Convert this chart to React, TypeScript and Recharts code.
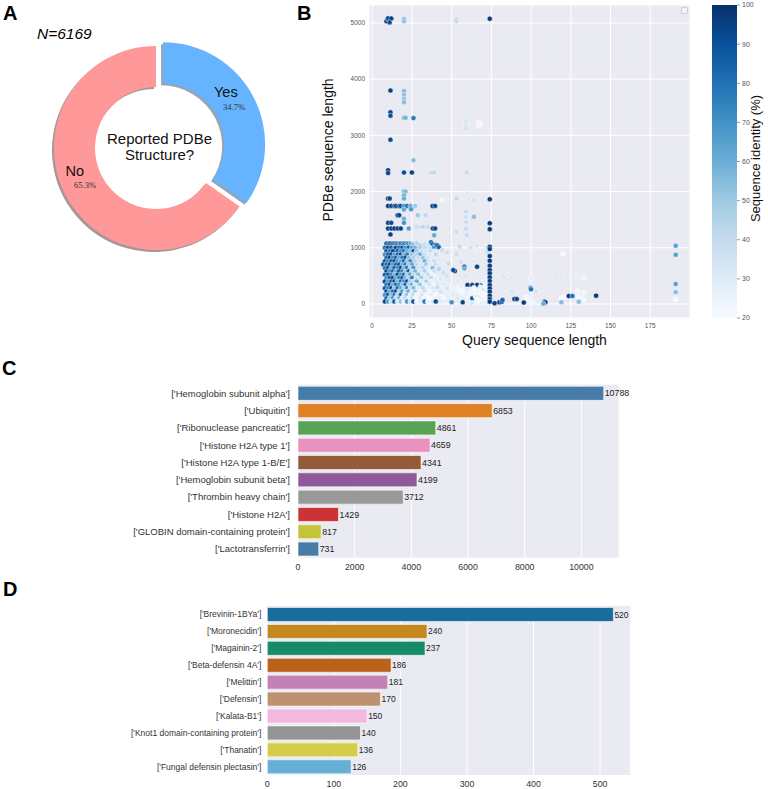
import React from 'react';
import {
  PieChart, Pie, Cell, ScatterChart, Scatter, XAxis, YAxis, CartesianGrid,
  BarChart, Bar, LabelList,
} from 'recharts';

const FONT = '"Liberation Sans", Arial, Helvetica, sans-serif';
const SERIF = '"Liberation Serif", "Times New Roman", serif';

// ---- panel A: reported PDBe structure ----
const pieNames = ['Yes', 'No'];
const pieCounts = [2141, 4028];
const pieColors = ['#66b3ff', '#ff9999'];
const pieShadow = ['#93a5b7', '#a89696'];

// ---- panel B: query length, PDBe length, identity (%) ----
const hits: [number, number, number][] = [
  // ~5000
  [9, 5030, 97], [10, 5060, 96], [10, 5085, 93], [12, 5080, 95], [11, 5010, 90],
  [20, 5070, 55], [20, 5030, 52], [53, 5060, 42], [53, 5030, 40], [74, 5075, 97],
  // 2900 - 3800
  [11.5, 3798, 95], [20, 3790, 55], [20, 3720, 53], [20, 3650, 52], [20, 3590, 55],
  [11.5, 3410, 92], [11.5, 3350, 90], [20, 3314, 60], [21, 3314, 58], [26, 3307, 78],
  [59, 3260, 35], [59, 3210, 33], [59, 3160, 34], [59, 3120, 36],
  [67, 3240, 22], [68, 3200, 21], [67, 3180, 23], [11.5, 2923, 92], [26, 2556, 55],
  // 2300
  [10, 2380, 96], [10, 2330, 94], [20, 2338, 92], [25, 2338, 95], [37, 2338, 40],
  [39, 2338, 42], [59.5, 2338, 40],
  // 1200 - 2000
  [20, 2005, 58], [21, 2000, 55], [20, 1928, 60],
  [10, 1876, 95], [11, 1876, 92], [20, 1876, 60], [44, 1850, 22], [53, 1876, 42],
  [60, 1965, 30], [61, 1846, 32], [64, 1846, 35],
  [10, 1745, 97], [12, 1745, 95], [14, 1745, 96], [15, 1745, 92], [17, 1745, 94],
  [18, 1745, 93], [20, 1745, 70], [22, 1745, 82], [24, 1745, 62], [27, 1745, 50],
  [38, 1745, 95], [39.6, 1745, 92], [20, 1680, 62], [24.5, 1686, 68],
  [16, 1580, 96], [17, 1580, 94], [28.7, 1580, 50], [33.6, 1580, 42],
  [59, 1640, 40], [59, 1550, 38], [64, 1550, 55], [20, 1515, 60],
  [10, 1443, 95], [12, 1443, 92], [20, 1443, 70],
  [10, 1343, 96], [12, 1343, 95], [14, 1343, 97], [16, 1343, 93], [18, 1343, 95],
  [23, 1343, 65], [28, 1372, 40], [30, 1372, 38], [32, 1372, 42], [35, 1372, 40],
  [38.2, 1343, 95], [39.6, 1343, 93], [59, 1460, 38], [59, 1343, 40], [53, 1283, 38],
  [39, 1224, 62], [11.5, 1237, 95], [59.5, 1225, 40], [37, 1100, 80],
  // dense block, query length 7-40
  [9, 1075, 95], [10, 1075, 92], [11, 1075, 88], [12, 1075, 96], [13, 1075, 85],
  [14, 1075, 90], [15, 1075, 78], [16, 1075, 93], [17, 1075, 70], [18, 1075, 88],
  [19, 1075, 82], [20, 1075, 75], [21, 1075, 91], [22, 1075, 68], [23, 1075, 86],
  [24, 1075, 60], [26, 1060, 55], [28, 1080, 45], [30, 1040, 50], [33, 1060, 40],
  [35, 1020, 45], [38, 1060, 90], [39, 1030, 88], [40, 1050, 85],
  [8, 1000, 80], [10, 1000, 96], [12, 1000, 90], [14, 1000, 75], [15, 1000, 94],
  [17, 1000, 82], [19, 1000, 90], [21, 1000, 70], [23, 1000, 85], [25, 1000, 65],
  [27, 1000, 58], [30, 1000, 48], [33, 1000, 42], [36, 1000, 38], [39, 1000, 70],
  [9, 940, 92], [11, 940, 78], [13, 940, 95], [16, 940, 88], [18, 940, 72],
  [20, 940, 84], [22, 940, 62], [24, 940, 55], [26, 940, 90], [28, 940, 50],
  [31, 940, 40], [34, 940, 35], [37, 940, 45], [39, 940, 30],
  [8, 880, 70], [10, 880, 88], [12, 880, 94], [14, 880, 66], [16, 880, 80],
  [18, 880, 92], [20, 880, 58], [22, 880, 76], [25, 880, 50], [28, 880, 45],
  [30, 880, 60], [33, 880, 38], [36, 880, 32], [40, 880, 42],
  [9, 820, 85], [11, 820, 96], [13, 820, 72], [15, 820, 90], [17, 820, 64],
  [19, 820, 80], [21, 820, 94], [23, 820, 55], [26, 820, 48], [29, 820, 40],
  [32, 820, 52], [35, 820, 36], [38, 820, 30],
  [8, 760, 92], [10, 760, 75], [12, 760, 86], [14, 760, 95], [16, 760, 70],
  [18, 760, 62], [20, 760, 88], [22, 760, 52], [24, 760, 72], [27, 760, 44],
  [30, 760, 38], [33, 760, 58], [36, 760, 34], [39, 760, 40],
  [7, 700, 90], [9, 700, 82], [11, 700, 94], [13, 700, 68], [15, 700, 85],
  [17, 700, 92], [19, 700, 60], [21, 700, 78], [23, 700, 50], [25, 700, 64],
  [28, 700, 42], [31, 700, 35], [34, 700, 48], [37, 700, 30], [40, 700, 36],
  [8, 640, 78], [10, 640, 95], [12, 640, 62], [14, 640, 88], [16, 640, 74],
  [18, 640, 96], [20, 640, 56], [22, 640, 82], [24, 640, 45], [26, 640, 70],
  [29, 640, 38], [32, 640, 44], [35, 640, 30], [38, 640, 55],
  [9, 580, 94], [11, 580, 70], [13, 580, 86], [15, 580, 60], [17, 580, 90],
  [19, 580, 75], [21, 580, 52], [23, 580, 88], [25, 580, 40], [27, 580, 58],
  [30, 580, 34], [33, 580, 46], [36, 580, 28], [39, 580, 38],
  [8, 520, 86], [10, 520, 92], [12, 520, 76], [14, 520, 58], [16, 520, 95],
  [18, 520, 68], [20, 520, 84], [22, 520, 48], [24, 520, 66], [26, 520, 42],
  [29, 520, 55], [32, 520, 32], [35, 520, 40], [38, 520, 26],
  [9, 460, 72], [11, 460, 88], [13, 460, 96], [15, 460, 64], [17, 460, 78],
  [19, 460, 90], [21, 460, 58], [23, 460, 44], [25, 460, 76], [28, 460, 36],
  [31, 460, 50], [34, 460, 30], [37, 460, 42], [40, 460, 28],
  [8, 400, 95], [10, 400, 66], [12, 400, 84], [14, 400, 92], [16, 400, 56],
  [18, 400, 80], [20, 400, 70], [22, 400, 92], [24, 400, 50], [26, 400, 38],
  [28, 400, 62], [31, 400, 30], [34, 400, 45], [37, 400, 26], [40, 400, 34],
  [9, 340, 80], [11, 340, 94], [13, 340, 60], [15, 340, 86], [17, 340, 72],
  [19, 340, 54], [21, 340, 88], [23, 340, 46], [25, 340, 60], [27, 340, 34],
  [30, 340, 52], [33, 340, 28], [36, 340, 36], [39, 340, 24],
  [8, 280, 88], [10, 280, 74], [12, 280, 96], [14, 280, 52], [16, 280, 84],
  [18, 280, 66], [20, 280, 46], [22, 280, 76], [24, 280, 38], [26, 280, 56],
  [29, 280, 30], [32, 280, 42], [35, 280, 26], [38, 280, 32],
  [9, 220, 92], [11, 220, 62], [13, 220, 80], [15, 220, 94], [17, 220, 48],
  [19, 220, 70], [21, 220, 40], [23, 220, 64], [25, 220, 32], [27, 220, 48],
  [30, 220, 26], [33, 220, 38], [36, 220, 24], [39, 220, 30],
  [8, 160, 70], [10, 160, 90], [12, 160, 56], [14, 160, 78], [16, 160, 42],
  [18, 160, 88], [20, 160, 36], [22, 160, 54], [24, 160, 28], [26, 160, 44],
  [28, 160, 24], [31, 160, 34], [34, 160, 22], [37, 160, 28], [40, 160, 22],
  [9, 100, 84], [11, 100, 50], [13, 100, 72], [15, 100, 38], [17, 100, 60],
  [19, 100, 30], [21, 100, 46], [23, 100, 26], [25, 100, 40], [27, 100, 22],
  [30, 100, 32], [33, 100, 24], [36, 100, 21], [39, 100, 26],
  [8, 45, 94], [10, 45, 66], [12, 45, 40], [14, 45, 86], [16, 45, 30],
  [18, 45, 52], [20, 45, 24], [22, 45, 70], [24, 45, 34], [26, 45, 90],
  [28, 45, 22], [30, 45, 28], [33, 45, 80], [35, 45, 24], [38, 45, 30], [40, 45, 92],
  // query length 40-73
  [41, 1040, 88], [42, 1010, 85], [44, 960, 40], [46, 900, 35], [47, 917, 38],
  [48, 720, 40], [45, 560, 38], [47, 500, 36], [42, 620, 45], [43, 450, 32],
  [41, 380, 30], [44, 300, 28], [46, 240, 26], [42, 180, 24], [45, 120, 22],
  [48, 60, 30], [50, 30, 70], [52, 585, 95], [51, 603, 92], [53, 917, 35],
  [53, 880, 38], [55, 1020, 40], [54, 400, 30], [55, 300, 26], [56, 200, 24],
  [57, 30, 95], [58, 662, 92], [58, 633, 60], [56, 750, 38], [59, 500, 34],
  [60, 337, 96], [61, 120, 24], [62, 1000, 36], [63, 337, 94], [63, 100, 88],
  [64, 760, 32], [65, 200, 22], [66, 1040, 34], [66, 662, 95], [66, 337, 96],
  [67, 900, 30], [68, 60, 24], [69, 337, 92], [70, 150, 22], [70, 400, 28],
  [71, 250, 24], [72, 1000, 35], [72, 870, 32], [73, 450, 28], [72, 80, 22],
  [73, 300, 24], [71, 40, 26],
  [41, 300, 40], [43, 220, 35], [45, 350, 30], [47, 280, 34], [49, 200, 28],
  [50, 330, 26], [51, 150, 30], [53, 260, 24], [54, 100, 32], [56, 320, 28],
  [57, 230, 22], [59, 160, 26], [60, 260, 30], [62, 200, 24], [64, 290, 22],
  [65, 130, 28], [67, 220, 24], [68, 300, 26], [69, 170, 22], [70, 260, 30],
  [71, 330, 24], [60, 40, 28], [63, 20, 34], [66, 60, 22], [69, 20, 26],
  [72, 920, 35], [73, 380, 28], [72, 220, 26], [73, 150, 24], [72, 20, 28],
  // query length 74 column
  [74, 1864, 97], [74, 1438, 97], [74, 1331, 97], [74, 1017, 97], [74, 976, 97],
  [74, 852, 97], [74, 769, 97], [74, 680, 97], [74, 603, 97], [74, 545, 97],
  [74, 474, 97], [74, 408, 97], [74, 337, 97], [74, 278, 97], [74, 218, 97],
  [74, 148, 97], [74, 89, 97], [74, 41, 97],
  // query length 75-145
  [83, 480, 35], [85, 515, 30], [80, 30, 97], [81.5, 40, 96], [77, 12, 95],
  [82, 70, 85], [89.5, 89, 96], [91, 89, 94], [88, 230, 35], [95.4, 24, 97],
  [99.6, 290, 62], [100, 260, 80], [97, 450, 30], [100, 450, 28], [97, 120, 22],
  [99, 60, 24], [101, 20, 22], [103, 230, 35], [106, 260, 30], [108.4, 41, 97],
  [109, 30, 95], [107.7, 5, 60], [115, 426, 32], [119, 455, 30], [119, 100, 21],
  [121, 120, 22], [119, 30, 55], [123.7, 142, 97], [126, 142, 80], [129.4, 467, 28],
  [133.6, 467, 25], [129, 230, 22], [130, 130, 21], [130, 40, 55], [133, 200, 23],
  [133, 80, 22], [140.9, 148, 98], [120, 888, 22],
  // query length ~191
  [191, 1035, 65], [191, 876, 65], [191, 355, 65], [191, 207, 55], [191, 130, 30], [191, 83, 22],
];
const scatterData = hits.map(([x, y, id]) => ({ x, y, id }));
const xTicksB = [0, 25, 50, 75, 100, 125, 150, 175];
const yTicksB = [0, 1000, 2000, 3000, 4000, 5000];
const identityTicks = [20, 30, 40, 50, 60, 70, 80, 90, 100];

// ---- panel C ----
const cNames = [
  "['Hemoglobin subunit alpha']", "['Ubiquitin']", "['Ribonuclease pancreatic']",
  "['Histone H2A type 1']", "['Histone H2A type 1-B/E']", "['Hemoglobin subunit beta']",
  "['Thrombin heavy chain']", "['Histone H2A']", "['GLOBIN domain-containing protein']",
  "['Lactotransferrin']",
];
const cCounts = [10788, 6853, 4861, 4659, 4341, 4199, 3712, 1429, 817, 731];
const cColors = ['#477ca8', '#df8025', '#58a256', '#e890be', '#965a38', '#905999', '#999999', '#cb3335', '#c4c43a', '#477ca8'];
const cTicks = [0, 2000, 4000, 6000, 8000, 10000];

// ---- panel D ----
const dNames = [
  "['Brevinin-1BYa']", "['Moronecidin']", "['Magainin-2']", "['Beta-defensin 4A']",
  "['Melittin']", "['Defensin']", "['Kalata-B1']", "['Knot1 domain-containing protein']",
  "['Thanatin']", "['Fungal defensin plectasin']",
];
const dCounts = [520, 240, 237, 186, 181, 170, 150, 140, 136, 126];
const dColors = ['#176d9c', '#c38820', '#168b6a', '#ba611b', '#c282b5', '#bd926e', '#f1b8e0', '#949494', '#d5cd4a', '#68afd7'];
const dTicks = [0, 100, 200, 300, 400, 500];

const BLUES = ['#f7fbff', '#deebf7', '#c6dbef', '#9ecae1', '#6baed6', '#4292c6', '#2171b5', '#08519c', '#08306b'];

function hexToRgb(h: string) {
  return [1, 3, 5].map((i) => parseInt(h.slice(i, i + 2), 16));
}
function blues(v: number) {
  const t = Math.max(0, Math.min(1, (v - 20) / 80)) * (BLUES.length - 1);
  const i = Math.min(BLUES.length - 2, Math.floor(t));
  const f = t - i;
  const a = hexToRgb(BLUES[i]);
  const b = hexToRgb(BLUES[i + 1]);
  const c = a.map((av, k) => Math.round(av + (b[k] - av) * f));
  return `rgb(${c[0]},${c[1]},${c[2]})`;
}

const RAD = Math.PI / 180;
const PIE_CX = 156;
const PIE_CY = 148;
const EXPLODE = 8;
const nameNudge: Record<string, { dx: number; dy: number; anchor: 'start' | 'end' }> = {
  Yes: { dx: -20, dy: -15, anchor: 'start' },
  No: { dx: -1, dy: -13.5, anchor: 'end' },
};

function pieLabel(visible: string) {
  return (p: any) => {
    const nm = p.payload?.name ?? p.name;
    if (nm !== visible) return null;
    const r = 80;
    const x = p.cx + r * Math.cos(-p.midAngle * RAD);
    const y = p.cy + r * Math.sin(-p.midAngle * RAD);
    const n = nameNudge[visible];
    return (
      <g>
        <text x={x + n.dx} y={y + n.dy} textAnchor={n.anchor} dominantBaseline="central" fontSize={14.5} fill="#111" fontFamily={FONT}>{visible}</text>
        <text x={x} y={y} textAnchor="middle" dominantBaseline="central" fontSize={8.5} fill="#333" fontFamily={SERIF}>{(p.percent * 100).toFixed(1)}%</text>
      </g>
    );
  };
}

function DonutPanel() {
  const data = pieNames.map((name, i) => ({ name, value: pieCounts[i] }));
  const total = pieCounts.reduce((s, v) => s + v, 0);
  const yesMid = 90 - (pieCounts[0] / total) * 180;
  const ex = EXPLODE * Math.cos(yesMid * RAD);
  const ey = -EXPLODE * Math.sin(yesMid * RAD);
  const layer = (key: string, cx: number, cy: number, show: number, colors: string[], label?: any) => (
    <Pie
      key={key}
      data={data}
      dataKey="value"
      nameKey="name"
      cx={cx}
      cy={cy}
      innerRadius={61}
      outerRadius={102}
      startAngle={90}
      endAngle={-270}
      stroke="none"
      isAnimationActive={false}
      label={label ?? false}
      labelLine={false}
    >
      {data.map((d, i) => (
        <Cell key={d.name} fill={i === show ? colors[i] : 'none'} />
      ))}
    </Pie>
  );
  return (
    <PieChart width={290} height={262} margin={{ top: 0, right: 0, bottom: 0, left: 0 }}>
      {layer('sNo', PIE_CX - 2, PIE_CY + 2, 1, pieShadow)}
      {layer('sYes', PIE_CX + ex - 2, PIE_CY + ey + 2, 0, pieShadow)}
      {layer('no', PIE_CX, PIE_CY, 1, pieColors, pieLabel('No'))}
      {layer('yes', PIE_CX + ex, PIE_CY + ey, 0, pieColors, pieLabel('Yes'))}
    </PieChart>
  );
}

const tickB = { fontSize: 6.5, fill: '#555', fontFamily: FONT };

function ScatterPanel() {
  const dot = (p: any) => (
    <circle cx={p.cx} cy={p.cy} r={2.5} fill={blues(p.payload.id)} stroke="#fff" strokeWidth={0.4} />
  );
  return (
    <ScatterChart width={420} height={350} margin={{ top: 5, right: 20, bottom: 0, left: 0 }}>
      <CartesianGrid fill="#eaeaf2" stroke="#ffffff" strokeWidth={1} />
      <XAxis
        type="number"
        dataKey="x"
        domain={[-2, 200]}
        ticks={xTicksB}
        height={32}
        tick={tickB}
        tickLine={false}
        axisLine={false}
        tickSize={0}
        tickMargin={5.5}
        label={{
          content: (lp: any) => (
            <text x={lp.viewBox.x + lp.viewBox.width / 2 + 5} y={lp.viewBox.y + 22} textAnchor="middle" dominantBaseline="central" fontSize={14} fill="#111" fontFamily={FONT}>
              Query sequence length
            </text>
          ),
        }}
      />
      <YAxis
        type="number"
        dataKey="y"
        domain={[-250, 5320]}
        ticks={yTicksB}
        width={79}
        tick={tickB}
        tickLine={false}
        axisLine={false}
        tickSize={0}
        tickMargin={4}
        label={{
          content: (lp: any) => {
            const x = lp.viewBox.x + lp.viewBox.width / 2 - 1.5;
            const y = lp.viewBox.y + lp.viewBox.height / 2 - 11.5;
            return (
              <text x={x} y={y} transform={`rotate(-90 ${x} ${y})`} textAnchor="middle" dominantBaseline="central" fontSize={14} fill="#111" fontFamily={FONT}>
                PDBe sequence length
              </text>
            );
          },
        }}
      />
      <Scatter data={scatterData} shape={dot} isAnimationActive={false} />
    </ScatterChart>
  );
}

function ColorbarPanel() {
  const cb = [{ k: 'identity', range: [identityTicks[0], identityTicks[identityTicks.length - 1]] }];
  // stops must run in increasing offset: top (offset 0) is the darkest end
  const stops = [...BLUES].reverse();
  return (
    <BarChart width={68} height={350} data={cb} margin={{ top: 5, right: 0, bottom: 32, left: 12 }} barCategoryGap={0}>
      <defs>
        <linearGradient id="cbBlues" x1="0" y1="0" x2="0" y2="1">
          {stops.map((c, i) => (
            <stop key={c} offset={`${(i * 100) / (stops.length - 1)}%`} stopColor={c} />
          ))}
        </linearGradient>
      </defs>
      <XAxis dataKey="k" type="category" hide />
      <YAxis
        orientation="right"
        type="number"
        domain={[20, 100]}
        ticks={identityTicks}
        width={31}
        tick={{ fontSize: 7, fill: '#555', fontFamily: FONT }}
        tickLine={{ stroke: '#555', strokeWidth: 0.6 }}
        tickSize={3}
        tickMargin={2}
        axisLine={false}
        label={{
          content: (lp: any) => {
            const x = lp.viewBox.x + 18;
            const y = lp.viewBox.y + 153.5;
            return (
              <text x={x} y={y} transform={`rotate(-90 ${x} ${y})`} textAnchor="middle" dominantBaseline="central" fontSize={13} fill="#111" fontFamily={FONT}>
                Sequence identity (%)
              </text>
            );
          },
        }}
      />
      <Bar dataKey="range" fill="url(#cbBlues)" isAnimationActive={false} />
    </BarChart>
  );
}

type RankProps = {
  names: string[];
  counts: number[];
  colors: string[];
  ticks: number[];
  width: number;
  height: number;
  top: number;
  right: number;
  yWidth: number;
  xHeight: number;
  labelSize: number;
  tickSize: number;
  valueSize: number;
  labelGap: number;
};

function RankBars(p: RankProps) {
  const data = p.names.map((name, i) => ({ name, value: p.counts[i] }));
  const max = Math.max(...p.counts) * 1.05;
  return (
    <BarChart
      width={p.width}
      height={p.height}
      data={data}
      layout="vertical"
      margin={{ top: p.top, right: p.right, bottom: 0, left: 0 }}
      barCategoryGap="10%"
    >
      <CartesianGrid fill="#eaeaf2" stroke="#ffffff" strokeWidth={1} horizontal={false} />
      <XAxis
        type="number"
        domain={[0, max]}
        ticks={p.ticks}
        height={p.xHeight}
        tick={{ fontSize: p.tickSize, fill: '#333', fontFamily: FONT }}
        tickLine={false}
        axisLine={false}
        tickSize={0}
        tickMargin={6}
      />
      <YAxis
        type="category"
        dataKey="name"
        width={p.yWidth}
        interval={0}
        tick={{ fontSize: p.labelSize, fill: '#333', fontFamily: FONT }}
        tickLine={false}
        axisLine={false}
        tickSize={0}
        tickMargin={p.labelGap}
      />
      <Bar dataKey="value" isAnimationActive={false} stroke="#ffffff" strokeWidth={0.6}>
        {data.map((d, i) => (
          <Cell key={d.name} fill={p.colors[i]} />
        ))}
        <LabelList dataKey="value" position="right" offset={1} fontSize={p.valueSize} fill="#222" fontFamily={FONT} />
      </Bar>
    </BarChart>
  );
}

const letter: React.CSSProperties = {
  position: 'absolute',
  fontFamily: FONT,
  fontWeight: 'bold',
  fontSize: 20,
  lineHeight: '20px',
  color: '#000',
};

export default function App() {
  return (
    <div style={{ position: 'absolute', left: 0, top: 0, width: 768, height: 789, background: '#fff', overflow: 'hidden', fontFamily: FONT }}>
      <div style={{ position: 'absolute', left: 0, top: 0 }}>
        <DonutPanel />
      </div>
      <div style={{ position: 'absolute', left: 290, top: 0 }}>
        <ScatterPanel />
      </div>
      <div style={{ position: 'absolute', left: 700, top: 0 }}>
        <ColorbarPanel />
      </div>
      <div style={{ position: 'absolute', left: 0, top: 370 }}>
        <RankBars
          names={cNames} counts={cCounts} colors={cColors} ticks={cTicks}
          width={640} height={210} top={14.6} right={21} yWidth={298} xHeight={22.4}
          labelSize={9.5} tickSize={8.8} valueSize={8.8} labelGap={8}
        />
      </div>
      <div style={{ position: 'absolute', left: 0, top: 592 }}>
        <RankBars
          names={dNames} counts={dCounts} colors={dColors} ticks={dTicks}
          width={640} height={197} top={13.8} right={9.3} yWidth={267.3} xHeight={14}
          labelSize={8.5} tickSize={8.8} valueSize={8.5} labelGap={6}
        />
      </div>

      {/* panel text */}
      <div style={{ ...letter, left: 3, top: 3 }}>A</div>
      <div style={{ ...letter, left: 297, top: 3 }}>B</div>
      <div style={{ ...letter, left: 2, top: 358 }}>C</div>
      <div style={{ ...letter, left: 3, top: 579 }}>D</div>
      <div style={{ position: 'absolute', left: 37, top: 26, fontSize: 15.5, lineHeight: '16px', fontStyle: 'italic', color: '#000' }}>N=6169</div>
      <div style={{ position: 'absolute', left: 99.5, top: 131, width: 120, textAlign: 'center', fontSize: 15, lineHeight: '16.4px', color: '#111' }}>
        Reported PDBe
        <br />
        Structure?
      </div>
      <div style={{ position: 'absolute', left: 681, top: 7, width: 5, height: 5, border: '1px solid #d0d0d8', borderRadius: 1, background: '#f4f4f8' }} />
    </div>
  );
}
